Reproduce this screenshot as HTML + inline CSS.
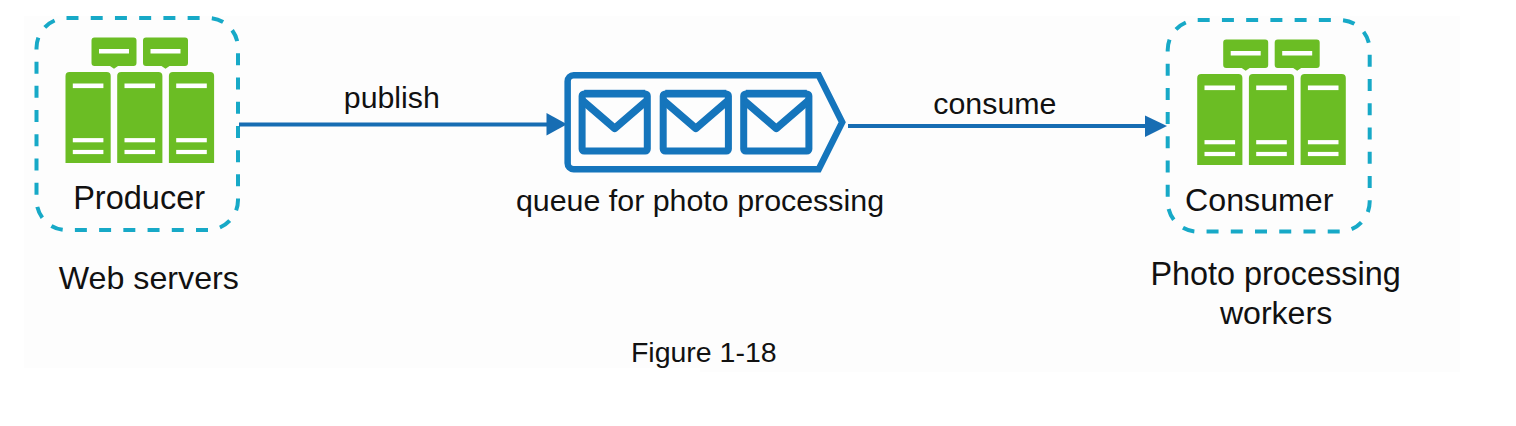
<!DOCTYPE html>
<html><head><meta charset="utf-8">
<style>
html,body{margin:0;padding:0;background:#ffffff;}
body{width:1516px;height:426px;overflow:hidden;position:relative;}
svg{position:absolute;left:0;top:0;}
text{font-family:"Liberation Sans",sans-serif;fill:#111111;}
</style></head><body>
<svg width="1516" height="426" viewBox="0 0 1516 426">
<!-- background panel -->
<polygon points="24,16 1460,16 1460,372 700,372 700,368 24,368" fill="#fdfdfd"/>

<!-- left dashed box -->
<rect x="36.5" y="18" width="201.5" height="212" rx="30" fill="none" stroke="#17a9c7" stroke-width="4" stroke-dasharray="12 12.25" pathLength="776"/>
<g transform="translate(65.5,37.5)">
  <path d="M29 0 h39 a3 3 0 0 1 3 3 v22.5 a3 3 0 0 1 -3 3 h-15.5 l-4 2.8 l-4 -2.8 h-15.5 a3 3 0 0 1 -3 -3 v-22.5 a3 3 0 0 1 3 -3z" fill="#6bbd24"/>
  <path d="M80.5 0 h39 a3 3 0 0 1 3 3 v22.5 a3 3 0 0 1 -3 3 h-15.5 l-4 2.8 l-4 -2.8 h-15.5 a3 3 0 0 1 -3 -3 v-22.5 a3 3 0 0 1 3 -3z" fill="#6bbd24"/>
  <rect x="33.5" y="11.5" width="30" height="4.5" fill="#fff"/>
  <rect x="85" y="11.5" width="30" height="4.5" fill="#fff"/>
  <path d="M0 38.5 a4 4 0 0 1 4 -4 h37.2 a4 4 0 0 1 4 4 v87 h-45.2z" fill="#6bbd24"/>
  <path d="M51.7 38.5 a4 4 0 0 1 4 -4 h37.2 a4 4 0 0 1 4 4 v87 h-45.2z" fill="#6bbd24"/>
  <path d="M103.4 38.5 a4 4 0 0 1 4 -4 h37.2 a4 4 0 0 1 4 4 v87 h-45.2z" fill="#6bbd24"/>
  <rect x="7.3" y="46" width="30.6" height="4.6" fill="#fff"/>
  <rect x="7.3" y="100.6" width="30.6" height="4.2" fill="#fff"/>
  <rect x="7.3" y="112.4" width="30.6" height="4.2" fill="#fff"/>
  <rect x="59" y="46" width="30.6" height="4.6" fill="#fff"/>
  <rect x="59" y="100.6" width="30.6" height="4.2" fill="#fff"/>
  <rect x="59" y="112.4" width="30.6" height="4.2" fill="#fff"/>
  <rect x="110.7" y="46" width="30.6" height="4.6" fill="#fff"/>
  <rect x="110.7" y="100.6" width="30.6" height="4.2" fill="#fff"/>
  <rect x="110.7" y="112.4" width="30.6" height="4.2" fill="#fff"/>
</g>
<text x="73.2" y="208.7" font-size="32.5">Producer</text>
<text x="58.8" y="289.2" font-size="32.2">Web servers</text>

<!-- left arrow -->
<line x1="239" y1="124.4" x2="550" y2="124.4" stroke="#176db3" stroke-width="4"/>
<path d="M546.5 113 L567 124.3 L546.5 135.5Z" fill="#176db3"/>
<text transform="translate(343.8,107.7) scale(1,0.95)" x="0" y="0" font-size="30.3">publish</text>

<!-- queue -->
<path d="M573.65 75.25 L818.7 75.25 L842.2 122.2 L818.7 169.15 L573.65 169.15 A6 6 0 0 1 567.65 163.15 L567.65 81.25 A6 6 0 0 1 573.65 75.25Z" fill="none" stroke="#1575bc" stroke-width="6.5" stroke-linejoin="miter"/>
<g transform="translate(582.2,93.3)">
  <rect x="-0.1" y="0.6" width="65.2" height="57.1" rx="2" fill="none" stroke="#1575bc" stroke-width="7"/><rect x="2" y="-3.5" width="61" height="1.5" fill="#1575bc"/>
  <path d="M0 7 L32.5 35 L65 7" fill="none" stroke="#1575bc" stroke-width="7.5" stroke-linejoin="round"/>
</g>
<g transform="translate(663.3,93.3)">
  <rect x="-0.1" y="0.6" width="65.2" height="57.1" rx="2" fill="none" stroke="#1575bc" stroke-width="7"/><rect x="2" y="-3.5" width="61" height="1.5" fill="#1575bc"/>
  <path d="M0 7 L32.5 35 L65 7" fill="none" stroke="#1575bc" stroke-width="7.5" stroke-linejoin="round"/>
</g>
<g transform="translate(743.8,93.3)">
  <rect x="-0.1" y="0.6" width="65.2" height="57.1" rx="2" fill="none" stroke="#1575bc" stroke-width="7"/><rect x="2" y="-3.5" width="61" height="1.5" fill="#1575bc"/>
  <path d="M0 7 L32.5 35 L65 7" fill="none" stroke="#1575bc" stroke-width="7.5" stroke-linejoin="round"/>
</g>
<text transform="translate(515.9,210.6) scale(1,0.95)" x="0" y="0" font-size="30.4">queue for photo processing</text>

<!-- right arrow -->
<line x1="848" y1="126.1" x2="1150" y2="126.1" stroke="#176db3" stroke-width="4"/>
<path d="M1145 115.5 L1167 126.1 L1145 137Z" fill="#176db3"/>
<text transform="translate(933.3,114.0) scale(1,0.95)" x="0" y="0" font-size="30.35">consume</text>

<!-- right dashed box -->
<rect x="1167.7" y="20" width="202" height="211.6" rx="30" fill="none" stroke="#17a9c7" stroke-width="4" stroke-dasharray="12 12.25" pathLength="776"/>
<g transform="translate(1197.2,39.5)">
  <path d="M29 0 h39 a3 3 0 0 1 3 3 v22.5 a3 3 0 0 1 -3 3 h-15.5 l-4 2.8 l-4 -2.8 h-15.5 a3 3 0 0 1 -3 -3 v-22.5 a3 3 0 0 1 3 -3z" fill="#6bbd24"/>
  <path d="M80.5 0 h39 a3 3 0 0 1 3 3 v22.5 a3 3 0 0 1 -3 3 h-15.5 l-4 2.8 l-4 -2.8 h-15.5 a3 3 0 0 1 -3 -3 v-22.5 a3 3 0 0 1 3 -3z" fill="#6bbd24"/>
  <rect x="33.5" y="11.5" width="30" height="4.5" fill="#fff"/>
  <rect x="85" y="11.5" width="30" height="4.5" fill="#fff"/>
  <path d="M0 38.5 a4 4 0 0 1 4 -4 h37.2 a4 4 0 0 1 4 4 v87 h-45.2z" fill="#6bbd24"/>
  <path d="M51.7 38.5 a4 4 0 0 1 4 -4 h37.2 a4 4 0 0 1 4 4 v87 h-45.2z" fill="#6bbd24"/>
  <path d="M103.4 38.5 a4 4 0 0 1 4 -4 h37.2 a4 4 0 0 1 4 4 v87 h-45.2z" fill="#6bbd24"/>
  <rect x="7.3" y="46" width="30.6" height="4.6" fill="#fff"/>
  <rect x="7.3" y="100.6" width="30.6" height="4.2" fill="#fff"/>
  <rect x="7.3" y="112.4" width="30.6" height="4.2" fill="#fff"/>
  <rect x="59" y="46" width="30.6" height="4.6" fill="#fff"/>
  <rect x="59" y="100.6" width="30.6" height="4.2" fill="#fff"/>
  <rect x="59" y="112.4" width="30.6" height="4.2" fill="#fff"/>
  <rect x="110.7" y="46" width="30.6" height="4.6" fill="#fff"/>
  <rect x="110.7" y="100.6" width="30.6" height="4.2" fill="#fff"/>
  <rect x="110.7" y="112.4" width="30.6" height="4.2" fill="#fff"/>
</g>
<text x="1185.0" y="210.6" font-size="32.2">Consumer</text>
<text x="1150.4" y="285.3" font-size="32.4">Photo processing</text>
<text x="1219.9" y="323.6" font-size="32.1">workers</text>

<text x="630.9" y="361.9" font-size="28.5">Figure 1-18</text>
</svg>
</body></html>
